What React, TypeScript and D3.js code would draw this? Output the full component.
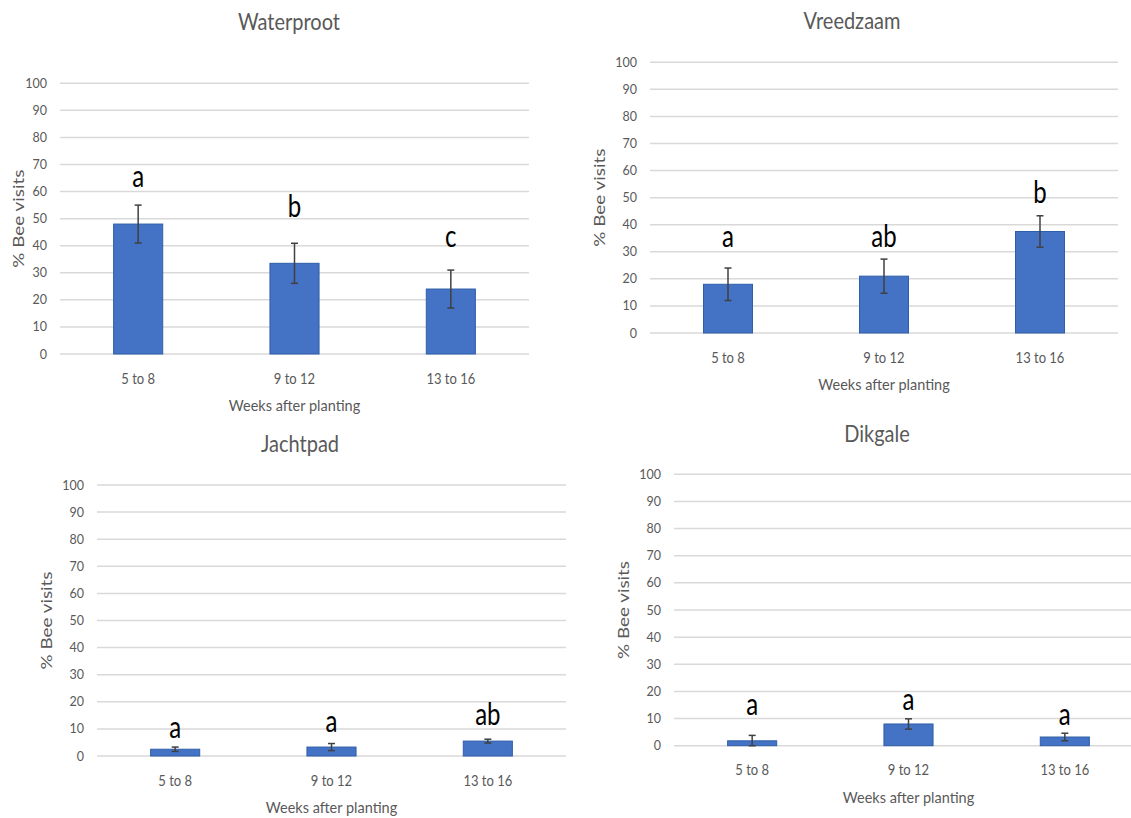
import React from "react";
import { useRef, useEffect } from "react";
import * as d3 from "d3";

// data
const categories = ["5 to 8", "9 to 12", "13 to 16"];
const yTicks = [0, 10, 20, 30, 40, 50, 60, 70, 80, 90, 100];

const waterprootMeans = [48, 33.5, 24];
const waterprootErrors = [7, 7.4, 7];
const waterprootLetters = ["a", "b", "c"];
const waterprootLetterLevel = [61.7, 50.6, 39.5];

const vreedzaamMeans = [18, 21, 37.5];
const vreedzaamErrors = [6, 6.3, 5.8];
const vreedzaamLetters = ["a", "ab", "b"];
const vreedzaamLetterLevel = [31.8, 31.8, 48];

const jachtpadMeans = [2.5, 3.3, 5.5];
const jachtpadErrors = [0.8, 1.3, 0.7];
const jachtpadLetters = ["a", "a", "ab"];
const jachtpadLetterLevel = [6.6, 8.9, 11.5];

const dikgaleMeans = [1.8, 8, 3.2];
const dikgaleErrors = [2, 1.9, 1.4];
const dikgaleLetters = ["a", "a", "a"];
const dikgaleLetterLevel = [11.3, 13.2, 7.6];

// panel layout (pixels)
const panels = [
  { title: "Waterproot", means: waterprootMeans, errors: waterprootErrors, letters: waterprootLetters, levels: waterprootLetterLevel,
    x0: 60, x1: 529, yTop: 83.3, yBottom: 354, titleX: 289, titleY: 30, yTitleOffset: 41 },
  { title: "Vreedzaam", means: vreedzaamMeans, errors: vreedzaamErrors, letters: vreedzaamLetters, levels: vreedzaamLetterLevel,
    x0: 650, x1: 1118, yTop: 62.3, yBottom: 333, titleX: 852, titleY: 29, yTitleOffset: 50 },
  { title: "Jachtpad", means: jachtpadMeans, errors: jachtpadErrors, letters: jachtpadLetters, levels: jachtpadLetterLevel,
    x0: 97, x1: 566, yTop: 485, yBottom: 756, titleX: 300, titleY: 452, yTitleOffset: 50 },
  { title: "Dikgale", means: dikgaleMeans, errors: dikgaleErrors, letters: dikgaleLetters, levels: dikgaleLetterLevel,
    x0: 674, x1: 1143, yTop: 474.3, yBottom: 745.7, titleX: 877, titleY: 442, yTitleOffset: 50 },
];

const FONT = "Lato, 'Open Sans', sans-serif";
const SY = 1.12; // the picture is a bit stretched vertically
const SY_LETTER = 1.3;

function App() {
  const svgRef = useRef(null);

  useEffect(() => {
    const svg = d3.select(svgRef.current);
    svg.selectAll("*").remove();

    panels.forEach((p) => {
      const g = svg.append("g");

      const x = d3
        .scaleBand()
        .domain(categories)
        .range([p.x0, p.x1])
        .paddingInner(0.686)
        .paddingOuter(0.343);

      const y = d3.scaleLinear().domain([0, 100]).range([p.yBottom, p.yTop]);

      // gridlines
      g.selectAll(".grid")
        .data(yTicks)
        .join("line")
        .attr("x1", p.x0)
        .attr("x2", p.x1)
        .attr("y1", (d) => y(d))
        .attr("y2", (d) => y(d))
        .attr("stroke", "#d9d9d9")
        .attr("stroke-width", 1.5);

      // y tick labels
      g.selectAll(".ytick")
        .data(yTicks)
        .join("text")
        .attr("transform", (d) => `translate(${p.x0 - 13},${y(d) + 4.5}) scale(1,${SY})`)
        .attr("text-anchor", "end")
        .attr("font-family", FONT)
        .attr("font-size", 12.5)
        .attr("fill", "#595959")
        .text((d) => d);

      // bars
      const rows = categories.map((c, i) => ({
        cat: c,
        mean: p.means[i],
        err: p.errors[i],
        letter: p.letters[i],
        level: p.levels[i],
      }));

      g.selectAll(".bar")
        .data(rows)
        .join("rect")
        .attr("x", (d) => x(d.cat))
        .attr("y", (d) => y(d.mean))
        .attr("width", x.bandwidth())
        .attr("height", (d) => y(0) - y(d.mean))
        .attr("fill", "#4472c4")
        .attr("stroke", "#2f5ea8")
        .attr("stroke-width", 1);

      // error bars
      const cx = (d) => x(d.cat) + x.bandwidth() / 2;
      const eb = g.selectAll(".err").data(rows).join("g");
      eb.append("line")
        .attr("x1", cx)
        .attr("x2", cx)
        .attr("y1", (d) => y(d.mean + d.err))
        .attr("y2", (d) => y(Math.max(0, d.mean - d.err)))
        .attr("stroke", "#404040")
        .attr("stroke-width", 1.5);
      eb.append("line")
        .attr("x1", (d) => cx(d) - 3.5)
        .attr("x2", (d) => cx(d) + 3.5)
        .attr("y1", (d) => y(d.mean + d.err))
        .attr("y2", (d) => y(d.mean + d.err))
        .attr("stroke", "#404040")
        .attr("stroke-width", 1.5);
      eb.append("line")
        .attr("x1", (d) => cx(d) - 3.5)
        .attr("x2", (d) => cx(d) + 3.5)
        .attr("y1", (d) => y(Math.max(0, d.mean - d.err)))
        .attr("y2", (d) => y(Math.max(0, d.mean - d.err)))
        .attr("stroke", "#404040")
        .attr("stroke-width", 1.5);

      // significance letters
      g.selectAll(".letter")
        .data(rows)
        .join("text")
        .attr("transform", (d) => `translate(${cx(d)},${y(d.level)}) scale(1,${SY_LETTER})`)
        .attr("text-anchor", "middle")
        .attr("font-family", FONT)
        .attr("font-size", 24)
        .attr("fill", "#000")
        .text((d) => d.letter);

      // category labels
      g.selectAll(".xtick")
        .data(categories)
        .join("text")
        .attr("transform", (d) => `translate(${x(d) + x.bandwidth() / 2},${p.yBottom + 29.5}) scale(1,${SY})`)
        .attr("text-anchor", "middle")
        .attr("font-family", FONT)
        .attr("font-size", 13)
        .attr("fill", "#595959")
        .text((d) => d);

      // axis titles
      g.append("text")
        .attr("transform", `translate(${(p.x0 + p.x1) / 2},${p.yBottom + 57}) scale(1,${SY})`)
        .attr("text-anchor", "middle")
        .attr("font-family", FONT)
        .attr("font-size", 14.5)
        .attr("fill", "#595959")
        .text("Weeks after planting");

      g.append("text")
        .attr(
          "transform",
          `translate(${p.x0 - p.yTitleOffset + 5},${(p.yTop + p.yBottom) / 2}) scale(1,1.3) rotate(-90)`
        )
        .attr("text-anchor", "middle")
        .attr("font-family", FONT)
        .attr("font-size", 14.5)
        .attr("fill", "#595959")
        .text("% Bee visits");

      // chart title
      g.append("text")
        .attr("transform", `translate(${p.titleX},${p.titleY}) scale(1,${SY})`)
        .attr("text-anchor", "middle")
        .attr("font-family", FONT)
        .attr("font-size", 20)
        .attr("fill", "#595959")
        .text(p.title);
    });
  }, []);

  return (
    <div>
      <svg
        ref={svgRef}
        width={1131}
        height={818}
        style={{ position: "absolute", left: 0, top: 0, background: "#fff" }}
      />
    </div>
  );
}

export default App;
